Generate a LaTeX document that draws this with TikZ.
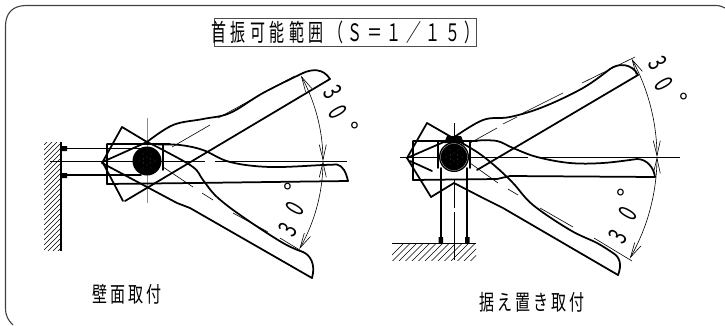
\documentclass[tikz,border=0pt]{standalone}
\usepackage{fontspec}
\usetikzlibrary{arrows.meta}
\newfontfamily\jpfont{Noto Sans CJK JP}
\newcommand{\degmark}{\raisebox{-0.6em}[0.15em][0.15em]{°}}
\tikzset{
  x=1pt,y=-1pt,
  frameline/.style={line width=1.1pt,draw=black!75},
  heavy/.style={line width=1.75pt,line join=round,line cap=round},
  fine/.style={line width=0.6pt},
  centerline/.style={line width=0.6pt},
  greyline/.style={line width=1pt,draw=black!45},
  dimarc/.style={line width=0.6pt,{Straight Barb[length=15pt,width=7pt]}-{Straight Barb[length=15pt,width=7pt]}},
  hatch/.style={line width=0.55pt},
  kanji/.style={inner sep=0pt,outer sep=0pt,font=\jpfont},
  dimup/.style={inner sep=0pt,outer sep=0pt,font=\fontsize{26}{26}\selectfont\jpfont,rotate=-60,xscale=0.68},
  dimdown/.style={inner sep=0pt,outer sep=0pt,font=\fontsize{26}{26}\selectfont\jpfont,rotate=60,xscale=0.68},
  dimdeg/.style={inner sep=0pt,outer sep=0pt,font=\fontsize{24}{24}\selectfont\jpfont}
}
\begin{document}
\begin{tikzpicture}
\useasboundingbox (0,0) rectangle (725,325);
\fill[white] (0,0) rectangle (725,325);
% outer frame (cropped by the page)
\draw[frameline] (13,325) .. controls (8,320) and (5.5,316) .. (5.5,308) -- (5.5,26)
  .. controls (5.5,13) and (13,5.5) .. (26,5.5) -- (716,5.5) .. controls (720,5.5) and (723,7) .. (725,8);
% title
\draw[line width=0.8pt,draw=black!70] (214,18) rectangle (476,46);
\node[kanji] (title) at (345.5,32) {\scalebox{1}[1.6]{\fontsize{15}{15}\selectfont\addfontfeatures{LetterSpace=30}首振可能範囲（Ｓ＝１／１５）}};
% captions
\node[kanji] (capL) at (127,294) {\scalebox{1}[1.45]{\fontsize{15}{15}\selectfont\addfontfeatures{LetterSpace=20}壁面取付}};
\node[kanji] (capR) at (532,302) {\scalebox{1}[1.45]{\fontsize{15}{15}\selectfont\addfontfeatures{LetterSpace=20}据え置き取付}};

%%%%%%%%%%%% LEFT
% wall
\begin{scope}
\clip (44,142) rectangle (61,250);
\foreach \k in {0,5,...,140}{\draw[hatch] (44,145+\k) -- (61,128+\k);}
\end{scope}
\draw[line width=1.3pt] (61,142) -- (61,251);
\draw[heavy] (61,148.5) -- (141,148.5) (61,175) -- (141,175);
\fill (61,146) rectangle (67,151) (61,173) rectangle (67,178);
% centre lines
\draw[centerline] (50,161) -- (140,161) (155,161) -- (205,161) (215,161) -- (347,161);
\draw[greyline] (147,118) -- (147,203);
% horizontal blade
\draw[heavy] (170,144) -- (107,144) -- (107,184) -- (193,183) -- (348,181);
\draw[heavy] (163,144.5) -- (163,170);
\draw[heavy] plot[smooth,tension=0.6] coordinates {(158,144.5) (180,145) (203,150) (230,162) (270,167) (323,165) (337,164.5)};
\draw[heavy] (337,164.5) .. controls (343,166) and (346,172) .. (348,181);
% upward blade
\draw[heavy] (123,201) -- (102.5,162) -- (147,142);
\draw[heavy] plot[smooth,tension=0.6] coordinates {(147,142) (173,125) (203,119) (230,113) (263,93) (303,73)};
\draw[heavy] (303,73) .. controls (312,69) and (323,68) .. (330,79) -- (125,201);
% downward blade
\draw[heavy] (102,163) -- (122,127) -- (147,142);
\draw[heavy] plot[smooth,tension=0.6] coordinates {(147,142) (163,150) (193,167) (203,180) (217,197) (243,217) (283,243) (303,252)};
\draw[heavy] (303,252) .. controls (310,255) and (316,264) .. (312,278);
\draw[heavy] (102,163) -- (147,187) -- (177,203) -- (190,208) -- (312,278);
% dashed axes
\draw[fine] (172,147) -- (210,125) (218,118) -- (260,95) (272,88) -- (295,76);
\draw[fine] (163,167) -- (193,187) (202,193) -- (213,200) (233,213) -- (268,232) (280,238) -- (303,252);
% hub
\fill (147,161) circle[radius=14.5];
\foreach \a in {0,60,...,300}{\fill[black!45] (147,161) ++(\a:8) circle[radius=0.35];\fill[black!45] (147,161) ++(\a+30:4) circle[radius=0.35];}
% dimension
\draw[dimarc] plot[domain=-29:0,samples=24] ({147+176*cos(\x)},{161+176*sin(\x)});
\draw[dimarc] plot[domain=0:30,samples=24] ({147+176*cos(\x)},{161+176*sin(\x)});
\node[dimup] (l3a) at (333,92) {3};
\node[dimup] (l0a) at (338,112) {0};
\node[dimdeg] (lda) at (355,126) {\degmark};
\node[dimdown] (l3b) at (288,230) {3};
\node[dimdown] (l0b) at (295,209) {0};
\node[dimdeg] (ldb) at (288,187) {\degmark};

%%%%%%%%%%%% RIGHT
% ground
\begin{scope}
\clip (392,243) rectangle (476,260);
\foreach \k in {0,6.5,...,110}{\draw[hatch] (385+\k,262) -- (405+\k,242);}
\end{scope}
\draw[line width=1.3pt] (392,243.5) -- (476,243.5);
% post
\draw[heavy] (441,168) -- (441,243) (467,168) -- (467,243);
\fill (438.5,237) rectangle (443,243) (465,237) rectangle (469.5,243);
% centre lines
\draw[centerline] (400,157) -- (528,157) (536,157) -- (680,157);
\draw[centerline] (454,123) -- (454,136) (454,180) -- (454,208) (454,212) -- (454,260);
% horizontal blade
\draw[heavy] (477,141) -- (413,141) -- (413,180) -- (497,179) -- (510,176) -- (655,177);
\draw[heavy] (438,141) -- (438,168) (470,141) -- (470,168);
\draw[heavy] plot[smooth,tension=0.6] coordinates {(477,140.5) (497,141) (513,148) (537,157) (570,163) (603,163) (637,159)};
\draw[heavy] (637,159) .. controls (647,159) and (654,168) .. (655,177);
% upward blade
\draw[heavy] (431,197) -- (407,158) -- (453,138);
\draw[heavy] plot[smooth,tension=0.6] coordinates {(453,138) (483,120) (510,117) (543,107) (583,88) (610,69)};
\draw[heavy] (610,69) .. controls (618,63) and (632,63) .. (638,75) -- (477,170);
\draw[heavy] (431,197) -- (454,183);
% downward blade
\draw[heavy] (407,158) -- (427,123) -- (453,138);
\draw[heavy] plot[smooth,tension=0.6] coordinates {(453,138) (477,152) (495,166) (513,183) (533,205) (570,230) (597,243) (613,253)};
\draw[heavy] (613,253) .. controls (620,257) and (622,265) .. (618,275);
\draw[heavy] (454,183) -- (483,198) -- (503,208) -- (618,275);
\draw[heavy] (410,161) -- (432,171);
% dashed axes
\draw[fine] (470,143) -- (497,128) (503,124) -- (517,117) (523,113) -- (563,93) (582,83) -- (635,57);
\draw[fine] (470,163) -- (498,183) (508,189) -- (518,195) (540,208) -- (573,227) (594,238) -- (632,261);
% hub
\fill (447,136) -- (461,136) -- (464,143) -- (444,143) -- cycle;
\fill (454,157) circle[radius=15];
\draw[black!35,line width=0.4pt] (454,157) circle[radius=13.5];
\foreach \a in {0,60,...,300}{\fill[black!45] (454,157) ++(\a:8) circle[radius=0.35];\fill[black!45] (454,157) ++(\a+30:4) circle[radius=0.35];}
% dimension
\draw[dimarc] plot[domain=-29:0,samples=24] ({454+203*cos(\x)},{157+203*sin(\x)});
\draw[dimarc] plot[domain=0:30,samples=24] ({454+203*cos(\x)},{157+203*sin(\x)});
\node[dimup] (r3a) at (658,63) {3};
\node[dimup] (r0a) at (664,84) {0};
\node[dimdeg] (rda) at (684,97) {\degmark};
\node[dimdown] (r3b) at (618,237) {3};
\node[dimdown] (r0b) at (628,214) {0};
\node[dimdeg] (rdb) at (621,193) {\degmark};
\end{tikzpicture}
\end{document}
